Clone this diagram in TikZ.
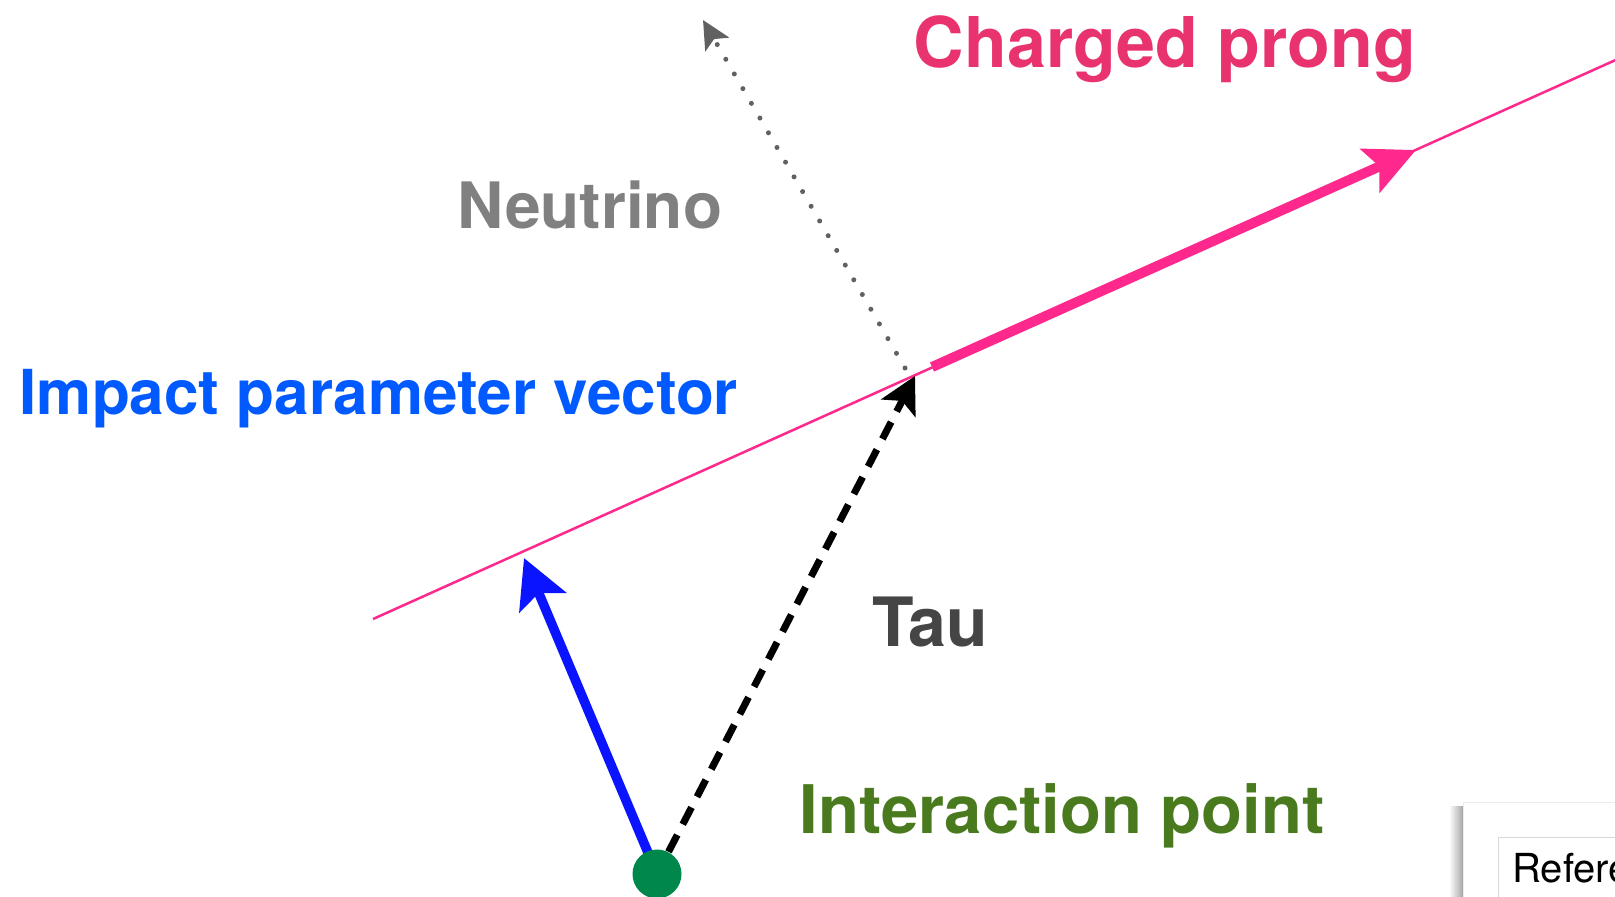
\documentclass[tikz,border=0pt]{standalone}
\usepackage{fontspec}
\usepackage{xcolor}
\usepackage{tikz}
\usetikzlibrary{arrows.meta,backgrounds}
\setmainfont{TeX Gyre Heros}

\definecolor{prongtxt}{RGB}{232,51,111}
\definecolor{pronglin}{RGB}{255,40,140}
\definecolor{imptxt}{RGB}{0,90,255}
\definecolor{implin}{RGB}{10,20,255}
\definecolor{iptxt}{RGB}{74,122,30}
\definecolor{ipdot}{RGB}{0,135,75}

\begin{document}
\begin{tikzpicture}[x=0.5pt, y=-0.5pt,
    lbl/.style={inner sep=0pt, anchor=base},
    vertex/.style={circle, fill=ipdot, minimum size=24.5pt, inner sep=0pt}]
    \useasboundingbox (0,0) rectangle (1615,896);
    \clip (0,0) rectangle (1615,896);

    % track of the charged prong
    \coordinate (trA) at (373,619);
    \coordinate (trB) at (1640,49);
    \coordinate (sv)  at (915,376);
    \coordinate (prA) at (932,367);
    \coordinate (prB) at (1416,150);
    \coordinate (nuA) at (905,368);
    \coordinate (nuB) at (703,20);
    \coordinate (ipv) at (524,558);
    \node[vertex] (ip) at (657,874) {};

    \begin{scope}[on background layer]
    \draw[pronglin, line width=1.25pt] (trA) -- (trB);
    \draw[pronglin, line width=5pt,
          -{Stealth[length=25pt, width=23.5pt, inset=5pt]}] (prA) -- (prB);
    \draw[black!62, line width=2.5pt, line cap=round, dash pattern=on 0pt off 8.5pt,
          -{Stealth[length=14pt, width=13.5pt, inset=3pt]}] (nuA) -- (nuB);
    \draw[implin, line width=4.75pt,
          -{Stealth[length=24pt, width=25pt, inset=5pt]}] (ip.center) -- (ipv);
    \draw[black, line width=3.5pt, dash pattern=on 9.5pt off 6pt, dash phase=3pt,
          -{Stealth[length=18pt, width=19pt, inset=4pt]}] (ip.center) -- (sv);
    \end{scope}

    \node[lbl, text=prongtxt, font=\bfseries\fontsize{35pt}{35pt}\selectfont] (chg) at (1165,67) {Charged prong};
    \node[lbl, text=black!50, font=\bfseries\fontsize{32pt}{32pt}\selectfont] (nu) at (590,228) {Neutrino};
    \node[lbl, anchor=base west, text=imptxt, font=\bfseries\fontsize{31pt}{31pt}\selectfont] (imp) at (19,414) {Impact parameter vector};
    \node[lbl, text=black!73, font=\bfseries\fontsize{34pt}{34pt}\selectfont] (tau) at (930,646) {Tau};
    \node[lbl, text=iptxt, font=\bfseries\fontsize{33.5pt}{33.5pt}\selectfont] (ipl) at (1062,833) {Interaction point};

    % panel in the corner
    \shade[left color=white, right color=black!35] (1449,806) rectangle (1463,896);
    \filldraw[draw=black!8, fill=white] (1463,802) rectangle (1630,910);
    \filldraw[draw=black!15, fill=white] (1498,837) rectangle (1630,910);
    \node[inner sep=0pt, anchor=base west, font=\fontsize{20pt}{20pt}\selectfont] (ref) at (1512,882) {Reference};
\end{tikzpicture}
\end{document}
